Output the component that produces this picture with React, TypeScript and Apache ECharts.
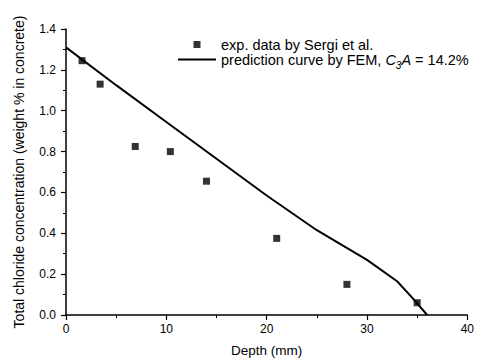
import React, { useEffect, useRef } from "react";
import * as echarts from "echarts";

const expDepth = [1.6, 3.4, 6.9, 10.4, 14.0, 21.0, 28.0, 35.0];
const expConc = [1.245, 1.13, 0.825, 0.8, 0.655, 0.375, 0.15, 0.06];

const femDepth = [0, 5, 10, 15, 20, 25, 30, 33, 34.5, 36];
const femConc = [1.31, 1.125, 0.945, 0.765, 0.585, 0.415, 0.27, 0.165, 0.085, 0];

const xTicks = [0, 10, 20, 30, 40];
const yTicks = [0, 0.2, 0.4, 0.6, 0.8, 1.0, 1.2, 1.4];

const expName = "exp. data by Sergi et al.";
const femName = "prediction curve by FEM";

export default function App() {
  const ref = useRef<HTMLDivElement>(null);
  useEffect(() => {
    if (!ref.current) return;
    const chart = echarts.init(ref.current, undefined, { renderer: "svg" });
    const font = "Liberation Sans";
    const lf = 14.5;
    chart.setOption({
      animation: false,
      backgroundColor: "#ffffff",
      textStyle: { fontFamily: font },
      grid: { left: 66, right: 8, top: 29, bottom: 46, containLabel: false },
      legend: {
        orient: "vertical",
        left: 178,
        top: 37,
        padding: 0,
        itemWidth: 38,
        itemHeight: 7,
        itemGap: 0,
        symbolKeepAspect: true,
        data: [
          { name: expName, icon: "path://M0,0h10v10h-10z" },
          { name: femName, icon: "path://M0,0h38v2h-38z" },
        ],
        textStyle: {
          fontFamily: font,
          fontSize: lf,
          color: "#000",
          rich: {
            i: { fontFamily: font, fontSize: lf, fontStyle: "italic", color: "#000" },
            sub: {
              fontFamily: font,
              fontSize: 10,
              fontStyle: "italic",
              color: "#000",
              padding: [11, 0, 0, 0],
            },
            n: { fontFamily: font, fontSize: lf, color: "#000" },
          },
        },
        formatter: (name: string) =>
          name === femName ? "{n|" + femName + ", }{i|C}{sub|3}{i|A}{n| = 14.2%}" : name,
      },
      xAxis: {
        type: "value",
        min: xTicks[0],
        max: xTicks[xTicks.length - 1],
        interval: 10,
        name: "Depth (mm)",
        nameLocation: "middle",
        nameGap: 28,
        nameTextStyle: { fontFamily: font, fontSize: 13.5, color: "#000" },
        axisLine: { show: true, lineStyle: { color: "#000", width: 1.5 } },
        axisTick: { show: true, length: 5, lineStyle: { color: "#000", width: 1.2 } },
        minorTick: { show: true, splitNumber: 2, length: 3, lineStyle: { color: "#000", width: 1 } },
        axisLabel: { fontFamily: font, fontSize: 12, color: "#000", margin: 8 },
        splitLine: { show: false },
      },
      yAxis: {
        type: "value",
        min: yTicks[0],
        max: yTicks[yTicks.length - 1],
        interval: 0.2,
        name: "Total chloride concentration (weight % in concrete)",
        nameLocation: "middle",
        nameGap: 40,
        nameTextStyle: { fontFamily: font, fontSize: 14, color: "#000" },
        axisLine: { show: true, lineStyle: { color: "#000", width: 1.5 } },
        axisTick: { show: true, length: 5, lineStyle: { color: "#000", width: 1.2 } },
        minorTick: { show: true, splitNumber: 2, length: 3, lineStyle: { color: "#000", width: 1 } },
        axisLabel: {
          fontFamily: font,
          fontSize: 12,
          color: "#000",
          margin: 10,
          formatter: (v: number) => v.toFixed(1),
        },
        splitLine: { show: false },
      },
      series: [
        {
          name: expName,
          type: "scatter",
          symbol: "rect",
          symbolSize: 7,
          itemStyle: { color: "#000" },
          data: expDepth.map((d, i) => [d, expConc[i]]),
          z: 3,
        },
        {
          name: femName,
          type: "line",
          symbol: "none",
          showSymbol: false,
          lineStyle: { color: "#000", width: 2 },
          itemStyle: { color: "#000" },
          data: femDepth.map((d, i) => [d, femConc[i]]),
          z: 2,
        },
      ],
    });
    return () => chart.dispose();
  }, []);
  return (
    <div
      ref={ref}
      style={{ position: "fixed", left: 0, top: 0, width: 477, height: 362, background: "#fff" }}
    />
  );
}
